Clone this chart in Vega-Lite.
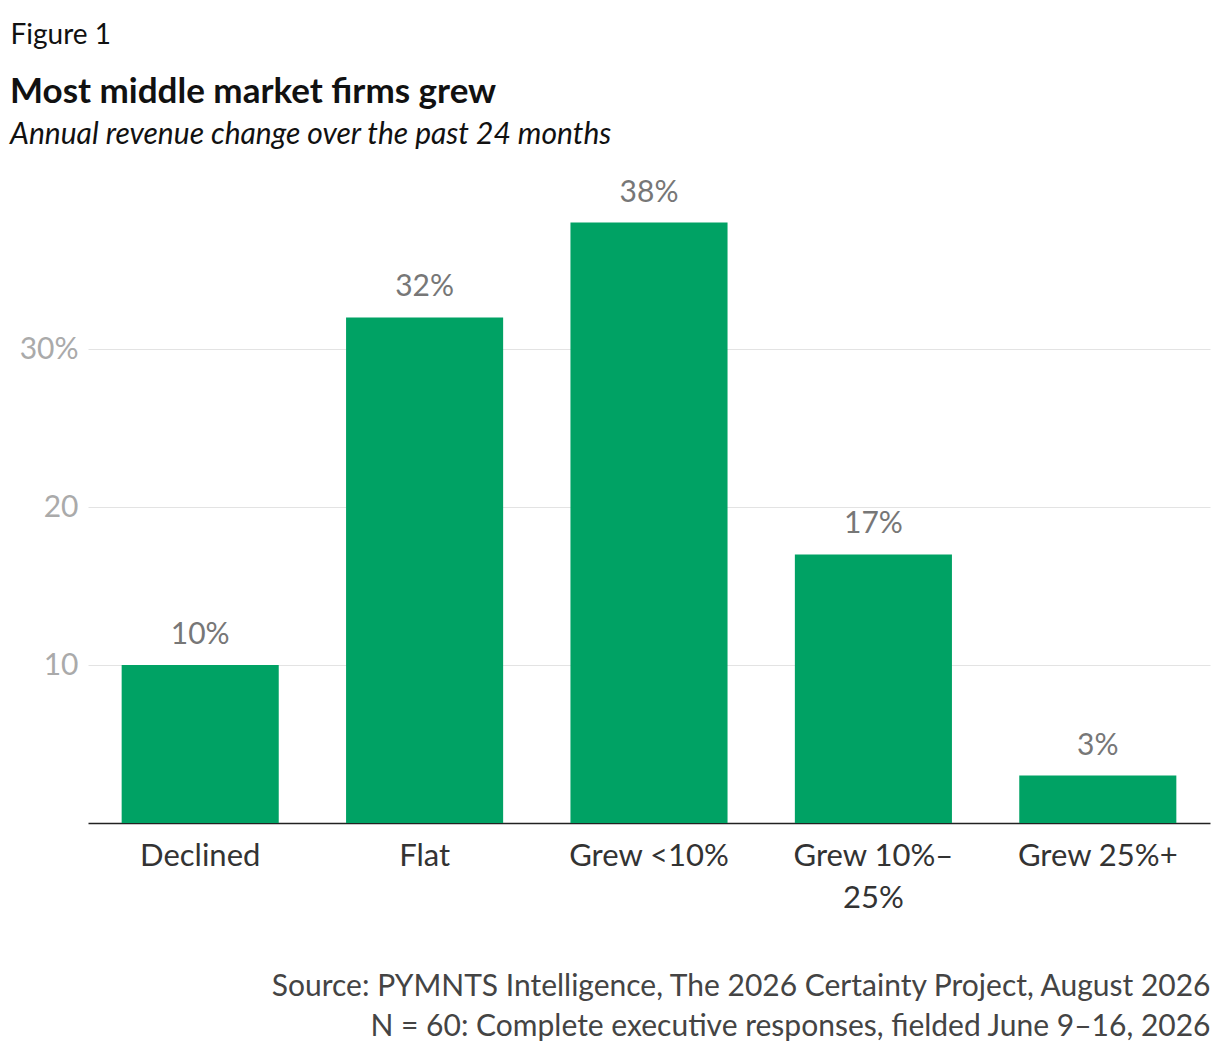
{
  "$schema": "https://vega.github.io/schema/vega-lite/v6.json",
  "autosize": "none",
  "width": 1122,
  "height": 632,
  "padding": {"left": 88, "top": 191, "right": 10, "bottom": 231},
  "background": "white",
  "config": {"font": "Lato", "view": {"stroke": null}},
  "title": {
    "text": "Most middle market firms grew",
    "subtitle": "Annual revenue change over the past 24 months",
    "anchor": "start",
    "frame": "group",
    "dx": -78,
    "offset": -129,
    "font": "Lato",
    "fontSize": 35,
    "fontWeight": "bold",
    "color": "#111111",
    "subtitleFont": "Lato",
    "subtitleFontSize": 30,
    "subtitleFontStyle": "italic",
    "subtitleColor": "#111111",
    "subtitlePadding": 10
  },
  "data": {
    "values": [
      {"category": "Declined", "share": 10, "label": "10%"},
      {"category": "Flat", "share": 32, "label": "32%"},
      {"category": "Grew <10%", "share": 38, "label": "38%"},
      {"category": "Grew 10%–25%", "share": 17, "label": "17%"},
      {"category": "Grew 25%+", "share": 3, "label": "3%"}
    ]
  },
  "encoding": {
    "x": {
      "field": "category",
      "type": "nominal",
      "sort": null,
      "scale": {"paddingInner": 0.3, "paddingOuter": 0.15},
      "axis": {
        "labelAngle": 0,
        "labelFontSize": 31,
        "labelColor": "#333333",
        "labelPadding": 18,
        "labelLineHeight": 42,
        "labelExpr": "datum.label == 'Grew 10%–25%' ? ['Grew 10%–', '25%'] : datum.label",
        "ticks": false,
        "domainColor": "#222222",
        "domainWidth": 1.5,
        "title": ["Source: PYMNTS Intelligence, The 2026 Certainty Project, August 2026", "N = 60: Complete executive responses, fielded June 9–16, 2026"],
        "titleFontSize": 30,
        "titleFontWeight": "normal",
        "titleColor": "#444444",
        "titleAlign": "right",
        "titleAnchor": "end",
        "titleX": 1122,
        "titleY": 148,
        "titleBaseline": "top",
        "titleLineHeight": 40
      }
    },
    "y": {
      "field": "share",
      "type": "quantitative",
      "scale": {"domain": [0, 40]},
      "axis": {
        "values": [10, 20, 30],
        "labelExpr": "datum.value == 30 ? '30%' : datum.label",
        "labelFontSize": 30,
        "labelColor": "#aaaaaa",
        "labelPadding": 10,
        "ticks": false,
        "domain": false,
        "gridColor": "#e3e3e3",
        "title": "Figure 1",
        "titleAngle": 0,
        "titleAlign": "left",
        "titleBaseline": "alphabetic",
        "titleX": -78,
        "titleY": -148,
        "titleFontSize": 28,
        "titleFontWeight": "normal",
        "titleColor": "#111111"
      }
    }
  },
  "layer": [
    {"mark": {"type": "bar", "color": "#00a264"}},
    {
      "mark": {"type": "text", "dy": -30, "fontSize": 30, "color": "#777777", "font": "Lato"},
      "encoding": {"text": {"field": "label", "type": "nominal"}}
    }
  ]
}
